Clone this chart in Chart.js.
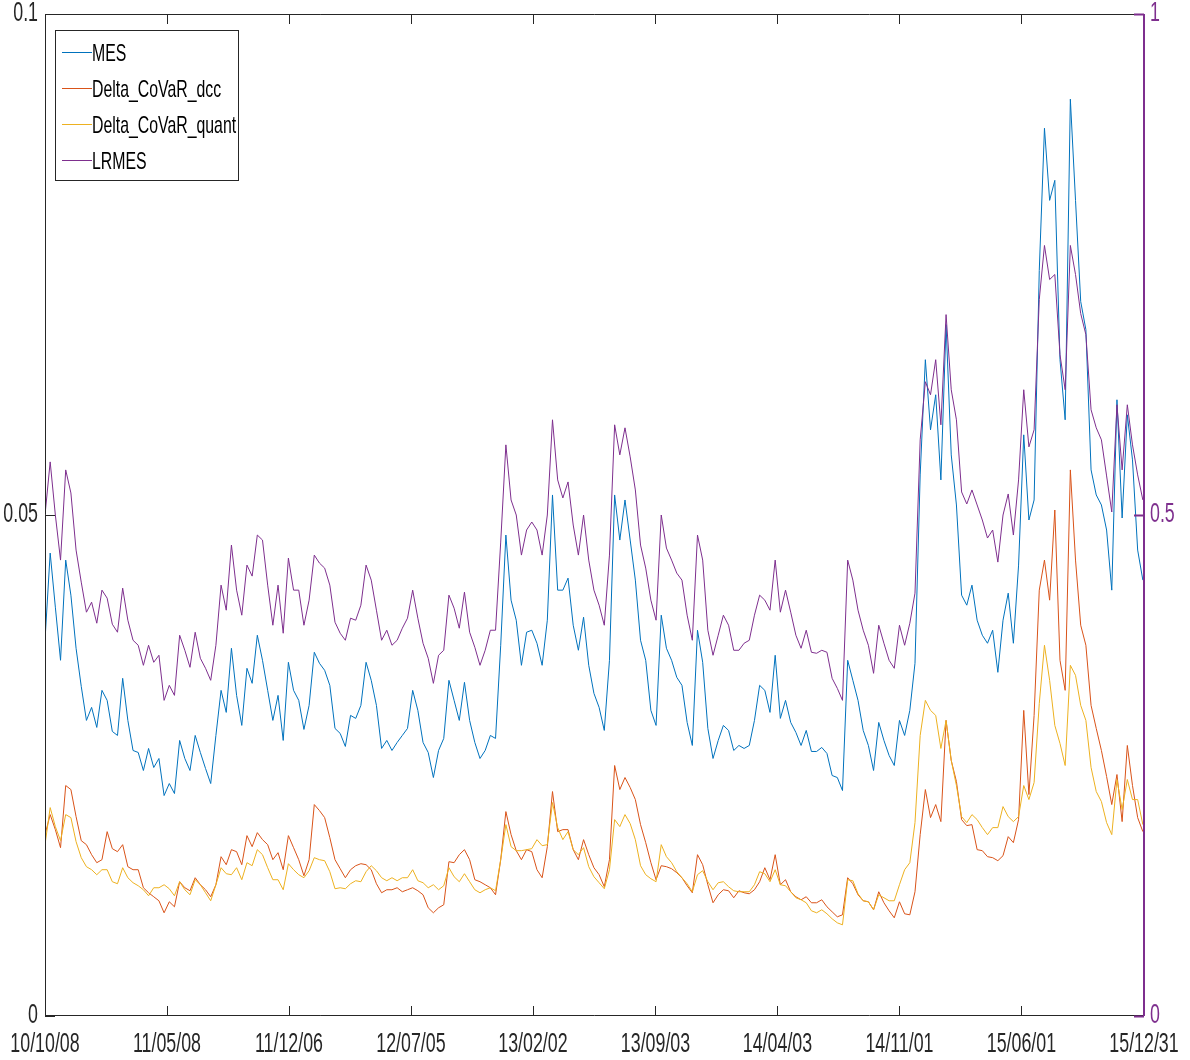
<!DOCTYPE html>
<html>
<head>
<meta charset="utf-8">
<title>MES, Delta CoVaR and LRMES</title>
<script src="https://cdn.jsdelivr.net/npm/chart.js@4.4.1/dist/chart.umd.min.js"></script>
<style>
  html, body { margin: 0; padding: 0; background: #fff; }
  #riskChart { display: block; }
</style>
</head>
<body>
<canvas id="riskChart" width="1190" height="1060"></canvas>
<script>
// sampling: one reading every 9 calendar days from the first date
const startDate = '2010-10-08';
const endDate = '2015-12-31';
const sampleStepDays = 9;
const tickDates = ['2010-10-08', '2011-05-08', '2011-12-06', '2012-07-05', '2013-02-02',
    '2013-09-03', '2014-04-03', '2014-11-01', '2015-06-01', '2015-12-31'];
const leftTicks = [0, 0.05, 0.1];
const rightTicks = [0, 0.5, 1];
const seriesNames = ['MES', 'Delta_CoVaR_dcc', 'Delta_CoVaR_quant', 'LRMES'];

const mes = [
    0.0375, 0.0462, 0.0408, 0.0355, 0.0455, 0.0420, 0.0367, 0.0329, 0.0295, 0.0308,
    0.0288, 0.0325, 0.0315, 0.0284, 0.0280, 0.0337, 0.0295, 0.0265, 0.0263, 0.0245,
    0.0267, 0.0248, 0.0257, 0.0220, 0.0232, 0.0222, 0.0275, 0.0257, 0.0245, 0.0280,
    0.0263, 0.0247, 0.0232, 0.0280, 0.0325, 0.0303, 0.0367, 0.0320, 0.0290, 0.0347,
    0.0332, 0.0380, 0.0355, 0.0325, 0.0295, 0.0320, 0.0275, 0.0353, 0.0325, 0.0315,
    0.0286, 0.0310, 0.0363, 0.0352, 0.0345, 0.0330, 0.0287, 0.0282, 0.0269, 0.0300,
    0.0297, 0.0310, 0.0353, 0.0335, 0.0310, 0.0267, 0.0275, 0.0265, 0.0273, 0.0280,
    0.0287, 0.0325, 0.0305, 0.0273, 0.0263, 0.0238, 0.0265, 0.0277, 0.0335, 0.0315,
    0.0295, 0.0333, 0.0295, 0.0273, 0.0257, 0.0265, 0.0280, 0.0277, 0.0370, 0.0480,
    0.0415, 0.0395, 0.0350, 0.0383, 0.0385, 0.0372, 0.0350, 0.0395, 0.0520, 0.0425,
    0.0425, 0.0437, 0.0390, 0.0365, 0.0398, 0.0350, 0.0322, 0.0308, 0.0285, 0.0355,
    0.0520, 0.0475, 0.0515, 0.0475, 0.0435, 0.0375, 0.0355, 0.0305, 0.0290, 0.0400,
    0.0367, 0.0355, 0.0338, 0.0330, 0.0293, 0.0270, 0.0385, 0.0353, 0.0287, 0.0257,
    0.0275, 0.0290, 0.0285, 0.0265, 0.0270, 0.0267, 0.0270, 0.0295, 0.0330, 0.0325,
    0.0303, 0.0360, 0.0297, 0.0315, 0.0293, 0.0283, 0.0270, 0.0285, 0.0264, 0.0264,
    0.0268, 0.0262, 0.0240, 0.0238, 0.0225, 0.0355, 0.0335, 0.0315, 0.0285, 0.0270,
    0.0245, 0.0293, 0.0275, 0.0260, 0.0250, 0.0295, 0.0280, 0.0305, 0.0352, 0.0540,
    0.0655, 0.0585, 0.0620, 0.0535, 0.0690, 0.0560, 0.0510, 0.0420, 0.0410, 0.0430,
    0.0395, 0.0380, 0.0372, 0.0385, 0.0343, 0.0395, 0.0422, 0.0372, 0.0450, 0.0580,
    0.0495, 0.0515, 0.0744, 0.0886, 0.0814, 0.0834, 0.0655, 0.0595, 0.0915, 0.0814,
    0.0713, 0.0685, 0.0545, 0.0520, 0.0510, 0.0485, 0.0425, 0.0615, 0.0497, 0.0600,
    0.0555, 0.0465, 0.0435
];

const covarDcc = [
    0.0181, 0.0201, 0.0186, 0.0168, 0.0230, 0.0226, 0.0199, 0.0175, 0.0171, 0.0161,
    0.0153, 0.0156, 0.0184, 0.0167, 0.0164, 0.0171, 0.0149, 0.0146, 0.0146, 0.0128,
    0.0123, 0.0119, 0.0115, 0.0103, 0.0114, 0.0109, 0.0134, 0.0128, 0.0125, 0.0138,
    0.0131, 0.0126, 0.0119, 0.0131, 0.0159, 0.0151, 0.0166, 0.0164, 0.0151, 0.0180,
    0.0169, 0.0183, 0.0176, 0.0171, 0.0156, 0.0163, 0.0146, 0.0180, 0.0168, 0.0156,
    0.0140, 0.0156, 0.0211, 0.0205, 0.0198, 0.0178, 0.0156, 0.0147, 0.0138, 0.0146,
    0.0150, 0.0152, 0.0151, 0.0146, 0.0132, 0.0123, 0.0126, 0.0126, 0.0128, 0.0124,
    0.0126, 0.0128, 0.0125, 0.0121, 0.0108, 0.0103, 0.0108, 0.0111, 0.0154, 0.0153,
    0.0161, 0.0166, 0.0156, 0.0136, 0.0134, 0.0131, 0.0128, 0.0121, 0.0156, 0.0204,
    0.0181, 0.0165, 0.0156, 0.0166, 0.0164, 0.0146, 0.0138, 0.0169, 0.0224, 0.0184,
    0.0186, 0.0186, 0.0166, 0.0156, 0.0176, 0.0161, 0.0148, 0.0141, 0.0129, 0.0156,
    0.0250, 0.0226, 0.0238, 0.0228, 0.0216, 0.0191, 0.0173, 0.0153, 0.0136, 0.0150,
    0.0149, 0.0147, 0.0143, 0.0138, 0.0130, 0.0123, 0.0161, 0.0151, 0.0131, 0.0113,
    0.0121, 0.0126, 0.0125, 0.0118, 0.0125, 0.0123, 0.0122, 0.0126, 0.0134, 0.0148,
    0.0136, 0.0161, 0.0131, 0.0136, 0.0124, 0.0119, 0.0116, 0.0119, 0.0113, 0.0113,
    0.0116, 0.0109, 0.0104, 0.0099, 0.0101, 0.0138, 0.0132, 0.0121, 0.0115, 0.0114,
    0.0106, 0.0124, 0.0113, 0.0105, 0.0098, 0.0114, 0.0102, 0.0101, 0.0124, 0.0181,
    0.0226, 0.0198, 0.0211, 0.0194, 0.0295, 0.0255, 0.0234, 0.0196, 0.0190, 0.0191,
    0.0166, 0.0165, 0.0159, 0.0158, 0.0155, 0.0160, 0.0179, 0.0173, 0.0196, 0.0305,
    0.0221, 0.0300, 0.0425, 0.0455, 0.0415, 0.0505, 0.0355, 0.0325, 0.0545, 0.0455,
    0.0390, 0.0370, 0.0310, 0.0287, 0.0265, 0.0239, 0.0211, 0.0241, 0.0194, 0.0270,
    0.0230, 0.0198, 0.0184
];

const covarQuant = [
    0.0171, 0.0208, 0.0189, 0.0175, 0.0201, 0.0198, 0.0174, 0.0158, 0.0149, 0.0146,
    0.0141, 0.0146, 0.0146, 0.0134, 0.0132, 0.0148, 0.0138, 0.0133, 0.0130, 0.0126,
    0.0120, 0.0128, 0.0128, 0.0131, 0.0127, 0.0120, 0.0134, 0.0126, 0.0121, 0.0136,
    0.0131, 0.0123, 0.0115, 0.0131, 0.0148, 0.0142, 0.0141, 0.0148, 0.0136, 0.0153,
    0.0150, 0.0166, 0.0161, 0.0148, 0.0136, 0.0136, 0.0126, 0.0152, 0.0146, 0.0141,
    0.0138, 0.0145, 0.0158, 0.0156, 0.0155, 0.0144, 0.0127, 0.0128, 0.0127, 0.0132,
    0.0135, 0.0134, 0.0144, 0.0150, 0.0145, 0.0138, 0.0135, 0.0138, 0.0135, 0.0138,
    0.0138, 0.0146, 0.0135, 0.0133, 0.0128, 0.0131, 0.0126, 0.0130, 0.0148, 0.0139,
    0.0134, 0.0142, 0.0134, 0.0126, 0.0123, 0.0126, 0.0128, 0.0125, 0.0156, 0.0191,
    0.0169, 0.0165, 0.0165, 0.0166, 0.0167, 0.0176, 0.0170, 0.0171, 0.0213, 0.0188,
    0.0176, 0.0184, 0.0166, 0.0161, 0.0168, 0.0149, 0.0139, 0.0133, 0.0127, 0.0146,
    0.0196, 0.0189, 0.0201, 0.0192, 0.0176, 0.0150, 0.0141, 0.0137, 0.0134, 0.0171,
    0.0159, 0.0153, 0.0144, 0.0138, 0.0132, 0.0124, 0.0141, 0.0145, 0.0134, 0.0126,
    0.0133, 0.0134, 0.0129, 0.0125, 0.0124, 0.0124, 0.0124, 0.0131, 0.0144, 0.0142,
    0.0134, 0.0146, 0.0131, 0.0130, 0.0124, 0.0118, 0.0116, 0.0113, 0.0105, 0.0103,
    0.0106, 0.0102, 0.0097, 0.0093, 0.0091, 0.0136, 0.0135, 0.0122, 0.0115, 0.0114,
    0.0106, 0.0121, 0.0118, 0.0115, 0.0115, 0.0131, 0.0146, 0.0153, 0.0193, 0.0280,
    0.0315, 0.0305, 0.0300, 0.0267, 0.0295, 0.0255, 0.0230, 0.0199, 0.0193, 0.0201,
    0.0196, 0.0188, 0.0181, 0.0188, 0.0188, 0.0209, 0.0199, 0.0194, 0.0199, 0.0230,
    0.0216, 0.0233, 0.0312, 0.0370, 0.0335, 0.0290, 0.0272, 0.0250, 0.0350, 0.0340,
    0.0310, 0.0295, 0.0248, 0.0224, 0.0214, 0.0193, 0.0181, 0.0236, 0.0206, 0.0236,
    0.0216, 0.0216, 0.0191
];

const lrmes = [
    0.500, 0.553, 0.500, 0.455, 0.545, 0.522, 0.465, 0.433, 0.403, 0.413,
    0.392, 0.425, 0.417, 0.391, 0.383, 0.427, 0.395, 0.375, 0.370, 0.350,
    0.370, 0.353, 0.360, 0.315, 0.330, 0.320, 0.380, 0.365, 0.348, 0.383,
    0.357, 0.347, 0.335, 0.370, 0.430, 0.405, 0.470, 0.425, 0.400, 0.450,
    0.439, 0.480, 0.475, 0.430, 0.390, 0.430, 0.382, 0.457, 0.425, 0.425,
    0.390, 0.415, 0.460, 0.452, 0.447, 0.430, 0.393, 0.382, 0.375, 0.397,
    0.395, 0.410, 0.450, 0.435, 0.405, 0.375, 0.385, 0.370, 0.375, 0.387,
    0.397, 0.425, 0.397, 0.372, 0.357, 0.332, 0.360, 0.365, 0.420, 0.407,
    0.387, 0.423, 0.383, 0.368, 0.350, 0.365, 0.385, 0.385, 0.473, 0.570,
    0.515, 0.500, 0.460, 0.485, 0.493, 0.485, 0.460, 0.500, 0.595, 0.535,
    0.517, 0.533, 0.490, 0.460, 0.500, 0.455, 0.425, 0.410, 0.390, 0.460,
    0.590, 0.560, 0.587, 0.558, 0.525, 0.470, 0.447, 0.415, 0.395, 0.500,
    0.467, 0.455, 0.442, 0.435, 0.400, 0.375, 0.480, 0.455, 0.385, 0.360,
    0.380, 0.400, 0.390, 0.365, 0.365, 0.372, 0.375, 0.400, 0.420, 0.415,
    0.405, 0.455, 0.403, 0.425, 0.403, 0.380, 0.367, 0.385, 0.363, 0.362,
    0.365, 0.363, 0.337, 0.327, 0.315, 0.455, 0.435, 0.405, 0.385, 0.370,
    0.342, 0.390, 0.372, 0.355, 0.347, 0.390, 0.370, 0.392, 0.422, 0.575,
    0.633, 0.620, 0.655, 0.590, 0.700, 0.625, 0.595, 0.523, 0.511, 0.525,
    0.510, 0.495, 0.477, 0.485, 0.453, 0.500, 0.521, 0.480, 0.535, 0.625,
    0.568, 0.585, 0.715, 0.769, 0.735, 0.740, 0.660, 0.625, 0.769, 0.740,
    0.701, 0.680, 0.605, 0.587, 0.575, 0.539, 0.503, 0.610, 0.545, 0.610,
    0.570, 0.540, 0.515
];

const colors = ['#0072BD', '#D95319', '#EDB120', '#7E2F8E'];
const axisColor = '#262626';
const fontFamily = "'Liberation Sans', Arial, sans-serif";
const squeeze = 0.66; // the original text is strongly condensed

const dayMs = 86400000;
const daysFromStart = (d) => Math.round((Date.parse(d) - Date.parse(startDate)) / dayMs);
const totalDays = daysFromStart(endDate);
const tickDays = tickDates.map(daysFromStart);
const tickLabels = tickDates.map(d => d.slice(2).replace(/-/g, '/'));

const toPoints = (values) => values.map((v, i) => ({ x: i * sampleStepDays, y: v }));

const makeSet = (idx, values, axis, order) => ({
    label: seriesNames[idx],
    data: toPoints(values),
    yAxisID: axis,
    borderColor: colors[idx],
    backgroundColor: colors[idx],
    borderWidth: 1,
    pointRadius: 0,
    tension: 0,
    order: order
});

const squeezedText = (ctx, text, x, y, align) => {
    ctx.save();
    ctx.translate(x, y);
    ctx.scale(squeeze, 1);
    ctx.textAlign = align;
    ctx.fillText(text, 0, 0);
    ctx.restore();
};

// box round the plot, MATLAB style inward ticks and the tick labels
const frameTicks = {
    id: 'frameTicks',
    afterDatasetsDraw(chart) {
        const { ctx, chartArea: a, scales } = chart;
        const len = 10;
        ctx.save();
        ctx.lineWidth = 1;
        ctx.strokeStyle = axisColor;
        ctx.beginPath();
        ctx.moveTo(a.left + 0.5, a.top + 0.5);
        ctx.lineTo(a.right, a.top + 0.5);
        ctx.moveTo(a.left + 0.5, a.top);
        ctx.lineTo(a.left + 0.5, a.bottom - 0.5);
        ctx.lineTo(a.right, a.bottom - 0.5);
        scales.x.ticks.forEach(t => {
            const px = Math.round(scales.x.getPixelForValue(t.value)) + 0.5;
            ctx.moveTo(px, a.bottom);
            ctx.lineTo(px, a.bottom - len);
            ctx.moveTo(px, a.top);
            ctx.lineTo(px, a.top + len);
        });
        scales.y.ticks.forEach(t => {
            const py = Math.round(scales.y.getPixelForValue(t.value)) + 0.5;
            ctx.moveTo(a.left, py);
            ctx.lineTo(a.left + len, py);
        });
        ctx.stroke();
        ctx.strokeStyle = colors[3];
        ctx.lineWidth = 2;
        ctx.beginPath();
        ctx.moveTo(a.right, a.top);
        ctx.lineTo(a.right, a.bottom);
        scales.y1.ticks.forEach(t => {
            const py = Math.round(scales.y1.getPixelForValue(t.value)) + 0.5;
            ctx.moveTo(a.right, py);
            ctx.lineTo(a.right - len, py);
        });
        ctx.stroke();

        ctx.font = '27px ' + fontFamily;
        ctx.textBaseline = 'middle';
        ctx.fillStyle = axisColor;
        scales.x.ticks.forEach((t, i) => {
            squeezedText(ctx, tickLabels[i], scales.x.getPixelForValue(t.value), a.bottom + 29, 'center');
        });
        scales.y.ticks.forEach((t, i) => {
            squeezedText(ctx, String(leftTicks[i]), a.left - 7, scales.y.getPixelForValue(t.value), 'right');
        });
        ctx.fillStyle = colors[3];
        scales.y1.ticks.forEach((t, i) => {
            squeezedText(ctx, String(rightTicks[i]), a.right + 6, scales.y1.getPixelForValue(t.value), 'left');
        });
        ctx.restore();
    }
};

// legend in a box at the top left, like the original figure
const boxedLegend = {
    id: 'boxedLegend',
    afterDraw(chart) {
        const { ctx, chartArea: a } = chart;
        const x0 = a.left + 10, y0 = a.top + 16, w = 183, h = 150, gap = 36;
        ctx.save();
        ctx.fillStyle = '#fff';
        ctx.fillRect(x0, y0, w, h);
        ctx.lineWidth = 1;
        ctx.strokeStyle = axisColor;
        ctx.strokeRect(x0 + 0.5, y0 + 0.5, w, h);
        ctx.font = '24px ' + fontFamily;
        ctx.textBaseline = 'middle';
        chart.data.datasets.forEach((ds, i) => {
            const cy = y0 + 24 + i * gap;
            ctx.strokeStyle = ds.borderColor;
            ctx.beginPath();
            ctx.moveTo(x0 + 7, cy - 1.5);
            ctx.lineTo(x0 + 37, cy - 1.5);
            ctx.stroke();
            ctx.fillStyle = '#000';
            squeezedText(ctx, ds.label, x0 + 37, cy, 'left');
        });
        ctx.restore();
    }
};

const fixBox = (size, key) => (scale) => {
    scale[key] = size;
    scale.paddingLeft = 0;
    scale.paddingRight = 0;
    scale.paddingTop = 0;
    scale.paddingBottom = 0;
};

const axisBase = {
    grid: { display: false, drawTicks: false },
    border: { display: false },
    ticks: { display: false }
};

new Chart(document.getElementById('riskChart'), {
    type: 'line',
    data: {
        datasets: [
            makeSet(0, mes, 'y', 4),
            makeSet(1, covarDcc, 'y', 3),
            makeSet(2, covarQuant, 'y', 2),
            makeSet(3, lrmes, 'y1', 1)
        ]
    },
    options: {
        responsive: false,
        animation: false,
        devicePixelRatio: 1,
        layout: { padding: { top: 14, left: 0, right: 0, bottom: 0 } },
        plugins: {
            legend: { display: false },
            tooltip: { enabled: false }
        },
        scales: {
            x: {
                ...axisBase,
                type: 'linear',
                min: 0,
                max: totalDays,
                afterBuildTicks: (scale) => { scale.ticks = tickDays.map(v => ({ value: v })); },
                afterFit: fixBox(44, 'height')
            },
            y: {
                ...axisBase,
                position: 'left',
                min: 0,
                max: 0.1,
                afterBuildTicks: (scale) => { scale.ticks = leftTicks.map(v => ({ value: v })); },
                afterFit: fixBox(45, 'width')
            },
            y1: {
                ...axisBase,
                position: 'right',
                min: 0,
                max: 1,
                afterBuildTicks: (scale) => { scale.ticks = rightTicks.map(v => ({ value: v })); },
                afterFit: fixBox(46, 'width')
            }
        }
    },
    plugins: [frameTicks, boxedLegend]
});
</script>
</body>
</html>
